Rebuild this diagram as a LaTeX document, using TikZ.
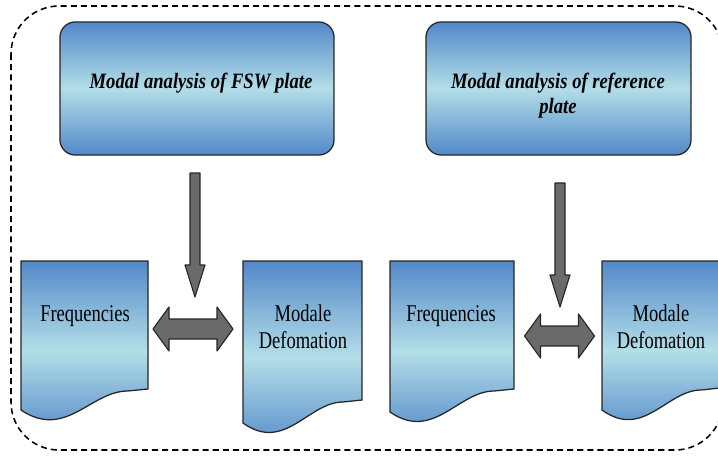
\documentclass[tikz,border=0pt]{standalone}
\usepackage{fontspec}
\setmainfont{Liberation Serif}[FakeStretch=0.77]
\newfontfamily\headfont{Liberation Serif}[FakeStretch=0.85]
\usetikzlibrary{calc}
\definecolor{deepblue}{HTML}{5288C8}
\definecolor{paleblue}{HTML}{B3DEE8}
\definecolor{arrowgray}{HTML}{6A6A6A}
\tikzset{
  bluegrad/.style={
    top color=deepblue,
    bottom color=deepblue,
    middle color=paleblue,
    draw=black!85,
    line width=0.9pt,
  },
  headbox/.style={bluegrad, rounded corners=0.38cm, minimum height=3.325cm, inner sep=0pt},
  headtext/.style={font=\headfont\fontsize{15.6}{17.8}\selectfont\bfseries\itshape, align=center},
  doctext/.style={font=\fontsize{17.1}{19.2}\selectfont, align=center},
  blockarrow/.style={draw=black!85, fill=arrowgray, line width=0.8pt, line join=round},
  frame/.style={draw=black, line width=1.1pt, dash pattern=on 4.3pt off 2.9pt, rounded corners=1.2cm},
  pics/downblock/.style={
    code={
      \draw[blockarrow] (-5,0) -- (5,0) -- (5,92) -- (10,92) -- (0,124)
        -- (-10,92) -- (-5,92) -- cycle;
    }
  },
  pics/twoway/.style={
    code={
      \draw[blockarrow] (-#1,0) -- (-#1+16,-22) -- (-#1+16,-10) -- (#1-16,-10)
        -- (#1-16,-22) -- (#1,0) -- (#1-16,22) -- (#1-16,10) -- (-#1+16,10)
        -- (-#1+16,22) -- cycle;
    }
  },
}
% document page with a wavy lower edge: x1, x2, y left, y right
\newcommand\docpage[4]{%
  \pgfmathsetmacro\dw{#2-#1}
  \draw[bluegrad] (#1,261) -- (#2,261) -- (#2,#4) -- ({#2-0.16*\dw},{#4+2})
    .. controls ({#2-0.45*\dw},{#4+2}) and ({#1+0.35*\dw},{#3+30}) .. (#1,#3) -- cycle;
}

\begin{document}
\begin{tikzpicture}[x=0.025cm,y=-0.025cm]
  \useasboundingbox (0,0) rectangle (718,456);
  \clip (0,0) rectangle (718,456);

  % dashed frame round both analyses
  \draw[frame] (11,6) rectangle (723,450);

  % FSW plate
  \node[headbox, minimum width=6.85cm] (fswbox) at (197,88.5) {};
  \node[headtext] (fswtext) at (201,82.9) {Modal analysis of FSW plate};
  \pic (fswdown) at (195,173) {downblock};

  \docpage{21}{148}{410}{389}
  \node[doctext] (freqA) at (85,316.4) {Frequencies};
  \docpage{243}{362}{423}{400}
  \node[doctext] (modeA) at (303,326.3) {Modale\\Defomation};
  \pic (linkA) at (193,329) {twoway=40};

  % reference plate
  \node[headbox, minimum width=6.625cm] (refbox) at (558.5,88.5) {};
  \node[headtext] (reftext) at (558,95.4) {Modal analysis of reference\\plate};
  \pic (refdown) at (560,183) {downblock};

  \docpage{390}{514}{412}{389}
  \node[doctext] (freqB) at (451,316.4) {Frequencies};
  \docpage{602}{720}{410}{388}
  \node[doctext] (modeB) at (661,326.3) {Modale\\Defomation};
  \pic (linkB) at (559.5,336) {twoway=35};
\end{tikzpicture}
\end{document}
